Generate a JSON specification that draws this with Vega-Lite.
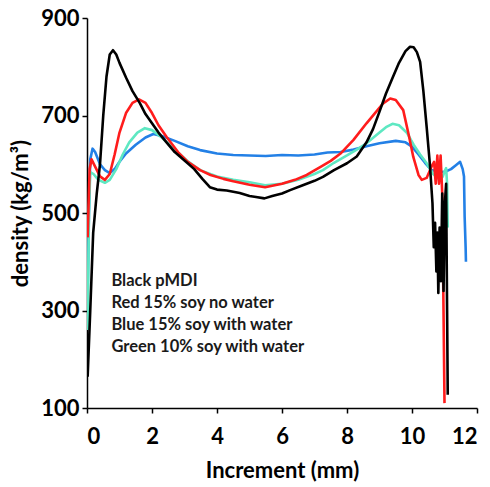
{
  "$schema": "https://vega.github.io/schema/vega-lite/v6.json",
  "autosize": {"type": "none"},
  "width": 390,
  "height": 390,
  "padding": {"left": 87, "top": 18, "right": 13, "bottom": 79},
  "background": "white",
  "config": {
    "view": {"stroke": null},
    "axis": {
      "grid": false,
      "domainColor": "black",
      "domainWidth": 1.5,
      "tickColor": "black",
      "tickWidth": 1.5,
      "tickSize": 5,
      "labelFont": "Lato",
      "labelFontWeight": "bold",
      "labelFontSize": 22,
      "labelColor": "black",
      "titleFont": "Lato",
      "titleFontWeight": "bold",
      "titleFontSize": 22,
      "titleColor": "black"
    }
  },
  "datasets": {
    "curves": [
      {"s": "Blue", "x": 0.02, "y": 338}, {"s": "Blue", "x": 0.06, "y": 500}, {"s": "Blue", "x": 0.1, "y": 610}, {"s": "Blue", "x": 0.17, "y": 632}, {"s": "Blue", "x": 0.25, "y": 625}, {"s": "Blue", "x": 0.4, "y": 600}, {"s": "Blue", "x": 0.55, "y": 588}, {"s": "Blue", "x": 0.7, "y": 582}, {"s": "Blue", "x": 0.85, "y": 590}, {"s": "Blue", "x": 1.0, "y": 605}, {"s": "Blue", "x": 1.2, "y": 622}, {"s": "Blue", "x": 1.5, "y": 640}, {"s": "Blue", "x": 1.8, "y": 655}, {"s": "Blue", "x": 2.04, "y": 662}, {"s": "Blue", "x": 2.3, "y": 658}, {"s": "Blue", "x": 2.7, "y": 648}, {"s": "Blue", "x": 3.1, "y": 637}, {"s": "Blue", "x": 3.48, "y": 629}, {"s": "Blue", "x": 4.0, "y": 622}, {"s": "Blue", "x": 4.5, "y": 619}, {"s": "Blue", "x": 5.0, "y": 618}, {"s": "Blue", "x": 5.5, "y": 617}, {"s": "Blue", "x": 6.0, "y": 619}, {"s": "Blue", "x": 6.5, "y": 618}, {"s": "Blue", "x": 7.0, "y": 620}, {"s": "Blue", "x": 7.4, "y": 624}, {"s": "Blue", "x": 7.8, "y": 625}, {"s": "Blue", "x": 8.2, "y": 630}, {"s": "Blue", "x": 8.6, "y": 637}, {"s": "Blue", "x": 9.0, "y": 643}, {"s": "Blue", "x": 9.5, "y": 648}, {"s": "Blue", "x": 9.8, "y": 645}, {"s": "Blue", "x": 10.0, "y": 636}, {"s": "Blue", "x": 10.2, "y": 620}, {"s": "Blue", "x": 10.4, "y": 603}, {"s": "Blue", "x": 10.6, "y": 588}, {"s": "Blue", "x": 10.8, "y": 585}, {"s": "Blue", "x": 11.0, "y": 584}, {"s": "Blue", "x": 11.2, "y": 590}, {"s": "Blue", "x": 11.35, "y": 598}, {"s": "Blue", "x": 11.48, "y": 605}, {"s": "Blue", "x": 11.56, "y": 590}, {"s": "Blue", "x": 11.6, "y": 575}, {"s": "Blue", "x": 11.62, "y": 492}, {"s": "Blue", "x": 11.65, "y": 430}, {"s": "Blue", "x": 11.66, "y": 400},

      {"s": "Green", "x": 0.02, "y": 260}, {"s": "Green", "x": 0.06, "y": 500}, {"s": "Green", "x": 0.1, "y": 584}, {"s": "Green", "x": 0.2, "y": 580}, {"s": "Green", "x": 0.35, "y": 568}, {"s": "Green", "x": 0.55, "y": 562}, {"s": "Green", "x": 0.7, "y": 568}, {"s": "Green", "x": 0.9, "y": 590}, {"s": "Green", "x": 1.1, "y": 620}, {"s": "Green", "x": 1.3, "y": 645}, {"s": "Green", "x": 1.55, "y": 665}, {"s": "Green", "x": 1.78, "y": 674}, {"s": "Green", "x": 2.0, "y": 670}, {"s": "Green", "x": 2.3, "y": 655}, {"s": "Green", "x": 2.7, "y": 630}, {"s": "Green", "x": 3.1, "y": 606}, {"s": "Green", "x": 3.48, "y": 588}, {"s": "Green", "x": 4.0, "y": 575}, {"s": "Green", "x": 4.5, "y": 568}, {"s": "Green", "x": 5.0, "y": 563}, {"s": "Green", "x": 5.48, "y": 557}, {"s": "Green", "x": 6.0, "y": 560}, {"s": "Green", "x": 6.5, "y": 568}, {"s": "Green", "x": 7.0, "y": 580}, {"s": "Green", "x": 7.26, "y": 588}, {"s": "Green", "x": 7.6, "y": 603}, {"s": "Green", "x": 8.0, "y": 618}, {"s": "Green", "x": 8.3, "y": 630}, {"s": "Green", "x": 8.6, "y": 643}, {"s": "Green", "x": 9.0, "y": 665}, {"s": "Green", "x": 9.2, "y": 676}, {"s": "Green", "x": 9.4, "y": 683}, {"s": "Green", "x": 9.6, "y": 680}, {"s": "Green", "x": 9.85, "y": 664}, {"s": "Green", "x": 10.05, "y": 640}, {"s": "Green", "x": 10.25, "y": 620}, {"s": "Green", "x": 10.45, "y": 602}, {"s": "Green", "x": 10.65, "y": 580}, {"s": "Green", "x": 10.86, "y": 568}, {"s": "Green", "x": 10.95, "y": 575}, {"s": "Green", "x": 11.0, "y": 585}, {"s": "Green", "x": 11.05, "y": 592}, {"s": "Green", "x": 11.08, "y": 560}, {"s": "Green", "x": 11.1, "y": 470},

      {"s": "Red", "x": 0.02, "y": 450}, {"s": "Red", "x": 0.08, "y": 590}, {"s": "Red", "x": 0.14, "y": 610}, {"s": "Red", "x": 0.25, "y": 595}, {"s": "Red", "x": 0.4, "y": 575}, {"s": "Red", "x": 0.55, "y": 568}, {"s": "Red", "x": 0.7, "y": 580}, {"s": "Red", "x": 0.85, "y": 620}, {"s": "Red", "x": 1.0, "y": 665}, {"s": "Red", "x": 1.2, "y": 705}, {"s": "Red", "x": 1.4, "y": 726}, {"s": "Red", "x": 1.6, "y": 733}, {"s": "Red", "x": 1.8, "y": 726}, {"s": "Red", "x": 2.0, "y": 705}, {"s": "Red", "x": 2.2, "y": 680}, {"s": "Red", "x": 2.45, "y": 656}, {"s": "Red", "x": 2.8, "y": 625}, {"s": "Red", "x": 3.1, "y": 605}, {"s": "Red", "x": 3.48, "y": 588}, {"s": "Red", "x": 3.8, "y": 578}, {"s": "Red", "x": 4.2, "y": 570}, {"s": "Red", "x": 4.5, "y": 565}, {"s": "Red", "x": 5.0, "y": 558}, {"s": "Red", "x": 5.48, "y": 553}, {"s": "Red", "x": 6.0, "y": 560}, {"s": "Red", "x": 6.4, "y": 568}, {"s": "Red", "x": 6.76, "y": 578}, {"s": "Red", "x": 7.2, "y": 595}, {"s": "Red", "x": 7.5, "y": 607}, {"s": "Red", "x": 7.8, "y": 622}, {"s": "Red", "x": 8.2, "y": 650}, {"s": "Red", "x": 8.6, "y": 684}, {"s": "Red", "x": 8.9, "y": 708}, {"s": "Red", "x": 9.1, "y": 724}, {"s": "Red", "x": 9.33, "y": 735}, {"s": "Red", "x": 9.5, "y": 732}, {"s": "Red", "x": 9.73, "y": 711}, {"s": "Red", "x": 9.9, "y": 660}, {"s": "Red", "x": 10.04, "y": 615}, {"s": "Red", "x": 10.2, "y": 578}, {"s": "Red", "x": 10.3, "y": 568}, {"s": "Red", "x": 10.45, "y": 572}, {"s": "Red", "x": 10.6, "y": 595}, {"s": "Red", "x": 10.68, "y": 605}, {"s": "Red", "x": 10.73, "y": 560}, {"s": "Red", "x": 10.78, "y": 618}, {"s": "Red", "x": 10.83, "y": 560}, {"s": "Red", "x": 10.88, "y": 618}, {"s": "Red", "x": 10.93, "y": 540}, {"s": "Red", "x": 10.97, "y": 300}, {"s": "Red", "x": 11.0, "y": 110},

      {"s": "Black", "x": 0.02, "y": 164}, {"s": "Black", "x": 0.1, "y": 300}, {"s": "Black", "x": 0.19, "y": 459}, {"s": "Black", "x": 0.3, "y": 540}, {"s": "Black", "x": 0.4, "y": 600}, {"s": "Black", "x": 0.5, "y": 700}, {"s": "Black", "x": 0.6, "y": 780}, {"s": "Black", "x": 0.7, "y": 825}, {"s": "Black", "x": 0.8, "y": 834}, {"s": "Black", "x": 0.9, "y": 825}, {"s": "Black", "x": 1.0, "y": 808}, {"s": "Black", "x": 1.2, "y": 778}, {"s": "Black", "x": 1.4, "y": 750}, {"s": "Black", "x": 1.63, "y": 725}, {"s": "Black", "x": 1.8, "y": 703}, {"s": "Black", "x": 2.0, "y": 684}, {"s": "Black", "x": 2.2, "y": 665}, {"s": "Black", "x": 2.46, "y": 644}, {"s": "Black", "x": 2.7, "y": 625}, {"s": "Black", "x": 3.08, "y": 603}, {"s": "Black", "x": 3.3, "y": 590}, {"s": "Black", "x": 3.55, "y": 570}, {"s": "Black", "x": 3.78, "y": 553}, {"s": "Black", "x": 4.0, "y": 548}, {"s": "Black", "x": 4.3, "y": 546}, {"s": "Black", "x": 4.7, "y": 541}, {"s": "Black", "x": 5.0, "y": 535}, {"s": "Black", "x": 5.2, "y": 533}, {"s": "Black", "x": 5.46, "y": 530}, {"s": "Black", "x": 5.7, "y": 535}, {"s": "Black", "x": 6.0, "y": 540}, {"s": "Black", "x": 6.25, "y": 547}, {"s": "Black", "x": 6.6, "y": 556}, {"s": "Black", "x": 7.0, "y": 566}, {"s": "Black", "x": 7.26, "y": 574}, {"s": "Black", "x": 7.6, "y": 588}, {"s": "Black", "x": 8.0, "y": 602}, {"s": "Black", "x": 8.3, "y": 616}, {"s": "Black", "x": 8.6, "y": 645}, {"s": "Black", "x": 8.8, "y": 672}, {"s": "Black", "x": 9.0, "y": 708}, {"s": "Black", "x": 9.2, "y": 745}, {"s": "Black", "x": 9.4, "y": 777}, {"s": "Black", "x": 9.6, "y": 808}, {"s": "Black", "x": 9.8, "y": 832}, {"s": "Black", "x": 9.94, "y": 841}, {"s": "Black", "x": 10.05, "y": 840}, {"s": "Black", "x": 10.15, "y": 830}, {"s": "Black", "x": 10.25, "y": 810}, {"s": "Black", "x": 10.35, "y": 750}, {"s": "Black", "x": 10.45, "y": 677}, {"s": "Black", "x": 10.55, "y": 600}, {"s": "Black", "x": 10.63, "y": 520}, {"s": "Black", "x": 10.67, "y": 430}, {"s": "Black", "x": 10.71, "y": 480}, {"s": "Black", "x": 10.75, "y": 380}, {"s": "Black", "x": 10.78, "y": 460}, {"s": "Black", "x": 10.81, "y": 336}, {"s": "Black", "x": 10.85, "y": 470}, {"s": "Black", "x": 10.89, "y": 360}, {"s": "Black", "x": 10.93, "y": 540}, {"s": "Black", "x": 10.97, "y": 340}, {"s": "Black", "x": 11.01, "y": 520}, {"s": "Black", "x": 11.05, "y": 560}, {"s": "Black", "x": 11.08, "y": 300}, {"s": "Black", "x": 11.1, "y": 127}
    ],
    "notes": [
      {"t": "Black pMDI", "x": 0.75, "y": 361},
      {"t": "Red 15% soy no water", "x": 0.75, "y": 316},
      {"t": "Blue 15% soy with water", "x": 0.75, "y": 271},
      {"t": "Green 10% soy with water", "x": 0.75, "y": 226}
    ]
  },
  "layer": [
    {
      "data": {"name": "curves"},
      "mark": {"type": "line", "strokeWidth": 2.6, "strokeJoin": "round", "clip": true},
      "encoding": {
        "x": {
          "field": "x", "type": "quantitative",
          "scale": {"domain": [0, 12], "nice": false, "zero": false},
          "axis": {"values": [0, 2, 4, 6, 8, 10, 12], "title": "Increment (mm)", "labelPadding": 13, "titlePadding": 13}
        },
        "y": {
          "field": "y", "type": "quantitative",
          "scale": {"domain": [100, 900], "nice": false, "zero": false},
          "axis": {"values": [100, 300, 500, 700, 900], "title": "density (kg/m³)", "labelPadding": 3, "titlePadding": 8}
        },
        "color": {
          "field": "s", "type": "nominal",
          "scale": {"domain": ["Blue", "Green", "Red", "Black"], "range": ["#2380e6", "#5ee8c2", "#ff1c1c", "#000000"]},
          "legend": null
        }
      }
    },
    {
      "data": {"name": "notes"},
      "mark": {"type": "text", "align": "left", "baseline": "middle", "font": "Lato", "fontWeight": "bold", "fontSize": 16.5, "color": "#1a1a1a"},
      "encoding": {
        "x": {"field": "x", "type": "quantitative"},
        "y": {"field": "y", "type": "quantitative"},
        "text": {"field": "t"}
      }
    }
  ]
}
